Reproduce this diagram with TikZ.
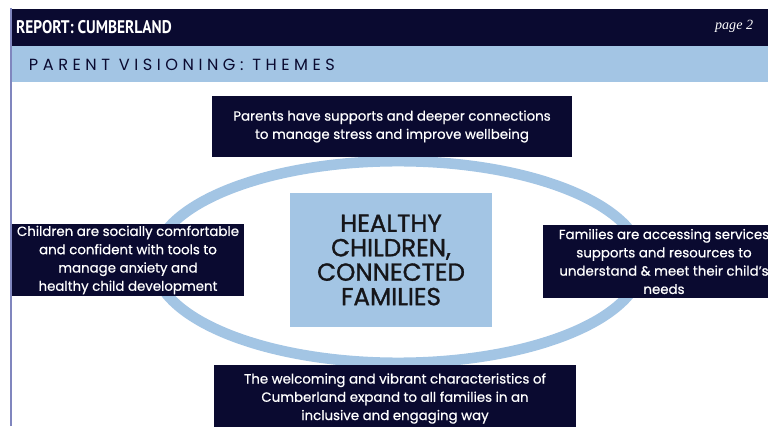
\documentclass[tikz,border=0pt]{standalone}
\usepackage{fontspec}
\setmainfont{Poppins}[FakeBold=0.6]
\newfontfamily\headfont{PT Sans}
\newfontfamily\pagefont{Liberation Serif}
\newfontfamily\spacedfont[LetterSpace=28]{Poppins}
\newfontfamily\hubfont[FakeBold=1.2]{Poppins}
\usetikzlibrary{calc}
\definecolor{navy}{RGB}{10,10,48}
\definecolor{paleblue}{RGB}{163,197,228}
\definecolor{rulelav}{RGB}{128,134,190}
\definecolor{inkblack}{RGB}{22,22,26}

\begin{document}
\begin{tikzpicture}[
  theme/.style={fill=navy, text=white, align=center, inner sep=0pt,
    font=\fontsize{9.5}{13}\selectfont},
  core/.style={fill=paleblue, text=inkblack, align=center, inner sep=0pt,
    font=\hubfont\fontsize{17.5}{17.4}\selectfont}
]

\useasboundingbox (0,0) rectangle (19.2,10.65);
\clip (0,0) rectangle (19.2,10.65);

\fill[navy] (0.25,9.5) rectangle (19.2,10.425);
\fill[paleblue] (0.25,8.6) rectangle (19.2,9.5);
\draw[rulelav, line width=2pt] (0.275,0) -- (0.275,10.45);

\node[anchor=west, text=white, font=\headfont\bfseries\fontsize{13}{14}\selectfont] (title) at (0.28,9.98) {\scalebox{0.84}[1]{REPORT: CUMBERLAND}};
\node[anchor=east, text=white, font=\pagefont\itshape\fontsize{10}{12}\selectfont] (page) at (18.95,10.0) {page 2};
\node[anchor=west, text=navy, font=\spacedfont\fontsize{11.5}{12}\selectfont] (themes) at (0.6,9.03) {PARENT VISIONING: THEMES};

\coordinate (O) at (9.95,4.1);
\draw[paleblue, line width=7.5pt] (O) ellipse [x radius=6.1, y radius=2.52];

\node[core, minimum width=5.05cm, minimum height=3.35cm] (hub) at (9.775,4.15) {HEALTHY\\CHILDREN,\\CONNECTED\\FAMILIES};

\node[theme, minimum width=9cm, minimum height=1.525cm] (parents) at (9.8,7.4875) {Parents have supports and deeper connections\\to manage stress and improve wellbeing};
\node[theme, minimum width=5.8cm, minimum height=1.8cm] (children) at (3.2,4.15) {Children are socially comfortable\\and confident with tools to\\manage anxiety and\\healthy child development};
\node[theme, minimum width=6.05cm, minimum height=1.825cm] (families) at (16.6,4.1125) {Families are accessing services\\supports and resources to\\understand \& meet their child's\\needs};
\node[theme, minimum width=9.05cm, minimum height=1.675cm] (welcome) at (9.875,0.6875) {The welcoming and vibrant characteristics of\\Cumberland expand to all families in an\\inclusive and engaging way};

\end{tikzpicture}
\end{document}
